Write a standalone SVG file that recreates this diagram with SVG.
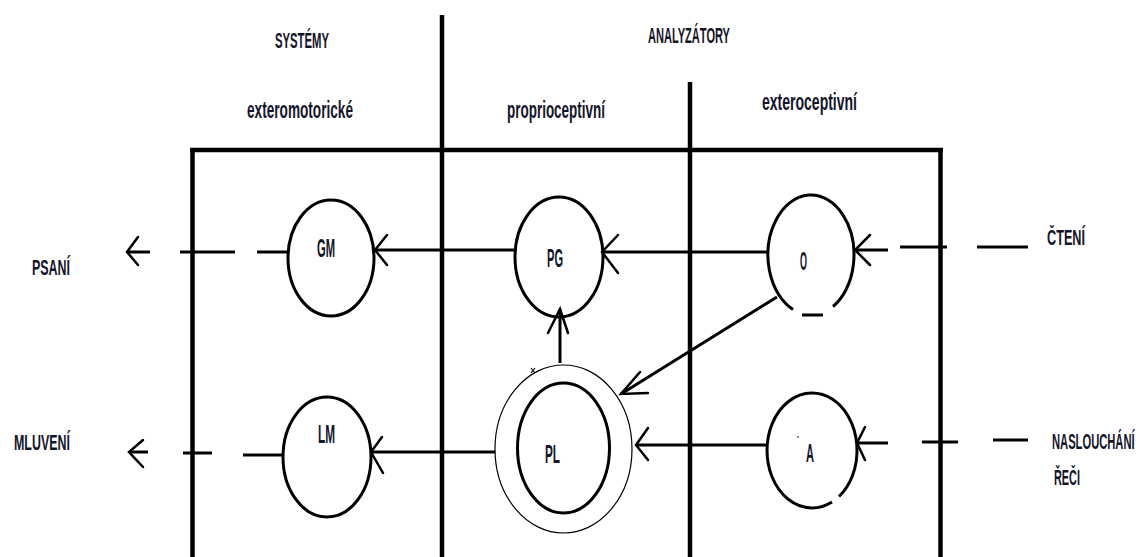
<svg xmlns="http://www.w3.org/2000/svg" width="1143" height="557" viewBox="0 0 1143 557">
  <style>
    .frame { stroke: #000; stroke-width: 4.5; fill: none; }
    .conn { stroke: #000; stroke-width: 3; fill: none; stroke-linecap: butt; }
    .head { stroke: #000; stroke-width: 2.5; fill: none; stroke-linecap: round; }
    .node { stroke: #000; stroke-width: 3; fill: none; }
    .thin { stroke: #000; stroke-width: 1.2; fill: none; }
    text { font-family: "Liberation Sans", Arial, sans-serif; font-weight: bold; fill: #15152a; text-anchor: middle; }
    .hdr { font-size: 22px; }
    .sub { font-size: 24px; }
    .side { font-size: 22px; text-anchor: start; }
    .lbl { font-size: 25px; }
  </style>
  <rect width="1143" height="557" fill="#fff"/>

  <!-- frame and column dividers -->
  <g id="frame">
    <path class="frame" d="M190 150 H943 M192.5 150 V557 M940.5 150 V557"/>
    <path class="frame" d="M442 15 V557"/>
    <path class="frame" d="M690 82 V557"/>
  </g>

  <!-- column headings -->
  <g id="headings">
    <text class="hdr" x="302" y="48" textLength="54" lengthAdjust="spacingAndGlyphs">SYSTÉMY</text>
    <text class="hdr" x="689" y="43" textLength="82" lengthAdjust="spacingAndGlyphs">ANALYZÁTORY</text>
    <text class="sub" x="300" y="118" textLength="106" lengthAdjust="spacingAndGlyphs">exteromotorické</text>
    <text class="sub" x="556" y="118" textLength="98" lengthAdjust="spacingAndGlyphs">proprioceptivní</text>
    <text class="sub" x="809.5" y="110" textLength="95" lengthAdjust="spacingAndGlyphs">exteroceptivní</text>
  </g>

  <!-- outer activities -->
  <g id="psani"><text class="side" x="32" y="275" textLength="38" lengthAdjust="spacingAndGlyphs">PSANÍ</text></g>
  <g id="mluveni"><text class="side" x="14" y="450" textLength="56" lengthAdjust="spacingAndGlyphs">MLUVENÍ</text></g>
  <g id="cteni"><text class="side" x="1047" y="245" textLength="38" lengthAdjust="spacingAndGlyphs">ČTENÍ</text></g>
  <g id="nasluchani">
    <!-- narrow label: squeezed horizontally so it stays inside the right margin -->
    <text class="side" transform="translate(1052 449) scale(0.51 1)" x="0" y="0" textLength="162" lengthAdjust="spacingAndGlyphs">NASLOUCHÁNÍ</text>
    <text class="side" x="1054" y="485" textLength="26" lengthAdjust="spacingAndGlyphs">ŘEČI</text>
  </g>

  <!-- nodes -->
  <g id="GM">
    <ellipse class="node" cx="331" cy="258" rx="43" ry="58"/>
    <text class="lbl" x="326" y="257" textLength="18" lengthAdjust="spacingAndGlyphs">GM</text>
  </g>
  <g id="LM">
    <ellipse class="node" cx="327" cy="457" rx="44" ry="60"/>
    <text class="lbl" x="326.5" y="443" textLength="17" lengthAdjust="spacingAndGlyphs">LM</text>
  </g>
  <g id="PG">
    <ellipse class="node" cx="559" cy="257" rx="44" ry="60"/>
    <text class="lbl" x="555" y="267" textLength="16" lengthAdjust="spacingAndGlyphs">PG</text>
  </g>
  <g id="PL">
    <ellipse class="thin" cx="563.5" cy="449" rx="68.5" ry="84"/>
    <path class="thin" d="M531 368 L535 373 M535 368 L531 373"/>
    <ellipse class="node" cx="563.5" cy="448" rx="46" ry="65"/>
    <text class="lbl" x="552.5" y="463" textLength="15" lengthAdjust="spacingAndGlyphs">PL</text>
  </g>
  <g id="O">
    <path class="node" d="M793 309.5 A43 60 0 1 1 833 306.5 M802 315 H823"/>
    <text class="lbl" x="803.5" y="270" textLength="7" lengthAdjust="spacingAndGlyphs">O</text>
  </g>
  <g id="A">
    <path class="node" d="M832 502 A45 57.5 0 1 1 839 496.5"/>
    <circle cx="798" cy="437" r="1" fill="#8a5a2a"/>
    <text class="lbl" x="810" y="462" textLength="8" lengthAdjust="spacingAndGlyphs">A</text>
  </g>

  <!-- connectors -->
  <g id="connectors">
    <!-- reading: input into O, then O to PG -->
    <path class="conn" d="M977 247 H1028 M900 247 H947 M855 250 H888"/>
    <path class="head" d="M870 235 L855 250 L870 265"/>
    <path class="conn" d="M768 252 H602"/>
    <path class="head" d="M618 235 L602 252 L618 273"/>
    <!-- O to PL -->
    <path class="conn" d="M777 297 L621 394"/>
    <path class="head" d="M640 372 L621 394 L648 393"/>
    <!-- PL to PG -->
    <path class="conn" d="M560 363 V309"/>
    <path class="head" d="M548 333 L560 309 L568 333"/>
    <!-- PG to GM, GM out to writing -->
    <path class="conn" d="M515 250 H375"/>
    <path class="head" d="M387 235 L375 250 L387 265"/>
    <path class="conn" d="M288 252 H257 M235 252 H180 M150 252 H127"/>
    <path class="head" d="M138 237 L127 252 L138 265"/>
    <!-- listening: input into A, then A to PL -->
    <path class="conn" d="M993 440 H1028 M922 442 H958 M857 443 H888"/>
    <path class="head" d="M865 427 L857 443 L865 460"/>
    <path class="conn" d="M767 445 H636"/>
    <path class="head" d="M648 428 L636 445 L648 460"/>
    <!-- PL to LM, LM out to speaking -->
    <path class="conn" d="M495 452 H371"/>
    <path class="head" d="M382 437 L371 452 L383 473"/>
    <path class="conn" d="M283 455 H243 M212 453 H183 M148 452 H129"/>
    <path class="head" d="M143 440 L129 452 L143 467"/>
  </g>
</svg>
